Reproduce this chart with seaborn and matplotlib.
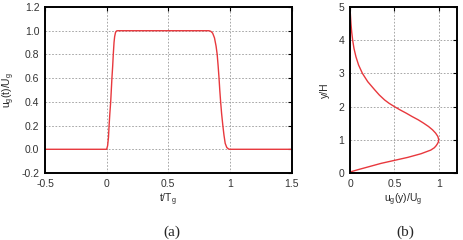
import numpy as np
import matplotlib
matplotlib.use("Agg")
import matplotlib.pyplot as plt
import seaborn as sns

# panel (a): gust time history
t_a = [-0.5, 0.0, 0.008, 0.015, 0.02, 0.026, 0.033, 0.038, 0.043, 0.049, 0.054,
       0.06, 0.065, 0.072, 0.08, 0.09, 0.5, 0.83, 0.845, 0.86, 0.875, 0.888,
       0.897, 0.905, 0.912, 0.918, 0.925, 0.933, 0.943, 0.952, 0.962, 0.975, 0.99, 1.0, 1.5]
u_a = [0.0, 0.0, 0.03, 0.1, 0.2, 0.3, 0.4, 0.5, 0.6, 0.7, 0.8,
       0.9, 0.95, 0.985, 0.998, 1.0, 1.0, 1.0, 0.995, 0.98, 0.94, 0.87,
       0.8, 0.7, 0.6, 0.5, 0.4, 0.3, 0.2, 0.12, 0.05, 0.015, 0.002, 0.0, 0.0]

# panel (b): vertical gust profile
y_b = [0.03, 0.1, 0.18, 0.29, 0.38, 0.47, 0.58, 0.69, 0.76, 0.82, 0.88, 0.93, 1.0,
       1.1, 1.2, 1.3, 1.4, 1.5, 1.6, 1.7, 1.8, 1.9, 2.0, 2.1, 2.2, 2.35, 2.5,
       2.75, 3.0, 3.25, 3.5, 3.75, 4.0, 4.25, 4.5, 4.75, 5.0]
u_b = [0.0, 0.09, 0.2, 0.35, 0.5, 0.65, 0.8, 0.91, 0.95, 0.97, 0.985, 0.995, 1.0,
       0.99, 0.965, 0.93, 0.885, 0.83, 0.77, 0.70, 0.635, 0.565, 0.5, 0.44, 0.39,
       0.33, 0.28, 0.2, 0.14, 0.097, 0.067, 0.045, 0.03, 0.019, 0.011, 0.005, 0.0]

sns.set_style("white")
plt.rcParams["font.family"] = ["Liberation Sans", "DejaVu Sans"]
plt.rcParams["mathtext.default"] = "regular"
fs = 7.5
red = "#e8383d"

fig = plt.figure(figsize=(4.63, 2.4), dpi=100)
W, H = 463, 240
ax1 = fig.add_axes([45 / W, 1 - 173 / H, (291.5 - 45) / W, (173 - 7) / H])
ax2 = fig.add_axes([350 / W, 1 - 173 / H, (456.5 - 350) / W, (173 - 7) / H])

sns.lineplot(x=t_a, y=u_a, ax=ax1, color=red, lw=1.0, sort=False, estimator=None)
sns.lineplot(x=u_b, y=y_b, ax=ax2, color=red, lw=1.0, sort=False, estimator=None)

ax1.set_xlim(-0.5, 1.5)
ax1.set_ylim(-0.2, 1.2)
ax1.set_xticks([-0.5, 0, 0.5, 1, 1.5])
ax1.set_xticklabels(["-0.5", "0", "0.5", "1", "1.5"])
ax1.set_yticks(np.arange(-0.2, 1.21, 0.2))
ax1.set_yticklabels([f"{v:.1f}" for v in np.arange(-0.2, 1.21, 0.2)])
ax1.set_xlabel("t/T$_g$", fontsize=fs, labelpad=2)
ax1.set_ylabel("u$_g$(t)/U$_g$", fontsize=fs)
ax1.yaxis.set_label_coords(-0.112, 0.5)

ax2.set_xlim(0, 1.2)
ax2.set_ylim(0, 5)
ax2.set_xticks([0, 0.5, 1])
ax2.set_xticklabels(["0", "0.5", "1"])
ax2.set_yticks([0, 1, 2, 3, 4, 5])
ax2.set_xlabel("u$_g$(y)/U$_g$", fontsize=fs, labelpad=2)
ax2.set_ylabel("y/H", fontsize=fs, labelpad=6)

for ax in (ax1, ax2):
    ax.grid(True, color="#999999", ls=(0, (2, 2)), lw=0.6)
    ax.tick_params(direction="in", length=3, width=0.8, labelsize=fs,
                   top=True, right=True, pad=4, colors="black")
    ax.tick_params(axis="x", labelcolor="#333333")
    ax.tick_params(axis="y", labelcolor="#333333")
    for s in ax.spines.values():
        s.set_color("black")
        s.set_linewidth(1.4)

fig.text(172 / W, 1 - 232 / H, "(a)", ha="center", va="center",
         fontsize=11, family="Liberation Serif")
fig.text(405 / W, 1 - 232 / H, "(b)", ha="center", va="center",
         fontsize=11, family="Liberation Serif")

fig.savefig("out.png", dpi=100)
